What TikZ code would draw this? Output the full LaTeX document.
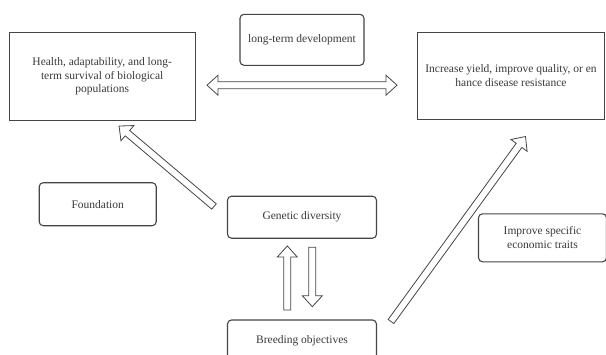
\documentclass[tikz,border=0pt]{standalone}
\usepackage{fontspec}
\setmainfont{Liberation Serif}
\usepackage{tikz}
\usetikzlibrary{calc, positioning}

\definecolor{edgegray}{HTML}{454545}
\definecolor{textgray}{HTML}{3A3A3A}

% hollow block arrow sizes
\newcommand{\shafthalf}{3.5pt}
\newcommand{\headhalf}{10pt}
\newcommand{\headlen}{11pt}

% hollow single arrow from #1 to #2
\newcommand{\hollowarrow}[2]{%
  \draw[fatarrow] let \p1=($(#2)-(#1)$), \n1={atan2(\y1,\x1)}, \n2={veclen(\x1,\y1)} in
    [shift={(#1)}, rotate=\n1]
    (0pt,-\shafthalf) -- ({\n2-\headlen},-\shafthalf) -- ({\n2-\headlen},-\headhalf)
    -- ({\n2},0pt) -- ({\n2-\headlen},\headhalf) -- ({\n2-\headlen},\shafthalf)
    -- (0pt,\shafthalf) -- cycle;}

% hollow double arrow between #1 and #2
\newcommand{\hollowdoublearrow}[2]{%
  \draw[fatarrow] let \p1=($(#2)-(#1)$), \n1={atan2(\y1,\x1)}, \n2={veclen(\x1,\y1)} in
    [shift={(#1)}, rotate=\n1]
    (0pt,0pt) -- (\headlen,-\headhalf) -- (\headlen,-\shafthalf)
    -- ({\n2-\headlen},-\shafthalf) -- ({\n2-\headlen},-\headhalf) -- ({\n2},0pt)
    -- ({\n2-\headlen},\headhalf) -- ({\n2-\headlen},\shafthalf)
    -- (\headlen,\shafthalf) -- (\headlen,\headhalf) -- cycle;}

\begin{document}
\begin{tikzpicture}[
        x=1pt, y=-1pt,
        textbox/.style={rectangle, draw=edgegray, line width=1.1pt, fill=white, align=center, text=textgray, inner sep=2pt, font=\fontsize{11.5}{13.6}\selectfont},
        squarebox/.style={textbox},
        roundbox/.style={textbox, rounded corners=4pt},
        fatarrow/.style={draw=edgegray, line width=0.8pt, fill=white, line join=miter}
    ]
        \useasboundingbox (0,0) rectangle (606,354);

        % Top row
        \node[squarebox, minimum width=186, minimum height=88] (health) at (102.2, 76.5) {Health, adaptability, and long-\\term survival of biological\\populations};
        \node[roundbox, minimum width=124, minimum height=51] (longterm) at (302, 39.8) {long-term development};
        \node[squarebox, minimum width=187, minimum height=87] (increase) at (511, 75.8) {Increase yield, improve quality, or en\\hance disease resistance};

        % Middle row
        \node[roundbox, minimum width=117, minimum height=43] (foundation) at (97.7, 204.2) {Foundation};
        \node[roundbox, minimum width=149, minimum height=42] (genetic) at (302, 217.2) {Genetic diversity};
        \node[roundbox, minimum width=128, minimum height=48] (improve) at (542.5, 237.8) {Improve specific\\economic traits};

        % Bottom
        \node[roundbox, minimum width=149, minimum height=42] (breeding) at (302, 341) {Breeding objectives};

        % Arrow ends
        \coordinate (dblL) at (207, 85.2);
        \coordinate (dblR) at (397, 85.2);
        \coordinate (ulTail) at (214, 206.5);
        \coordinate (ulTip) at (119, 126);
        \coordinate (urTail) at (391, 321.5);
        \coordinate (urTip) at (525.5, 136.5);
        \coordinate (upTail) at (287.3, 310);
        \coordinate (upTip) at (287.3, 246);
        \coordinate (dnTail) at (312.3, 247.3);
        \coordinate (dnTip) at (312.3, 306.7);

        % Block arrows
        \hollowdoublearrow{dblL}{dblR}
        \hollowarrow{ulTail}{ulTip}
        \hollowarrow{urTail}{urTip}
        \hollowarrow{upTail}{upTip}
        \hollowarrow{dnTail}{dnTip}

    \end{tikzpicture}
\end{document}
